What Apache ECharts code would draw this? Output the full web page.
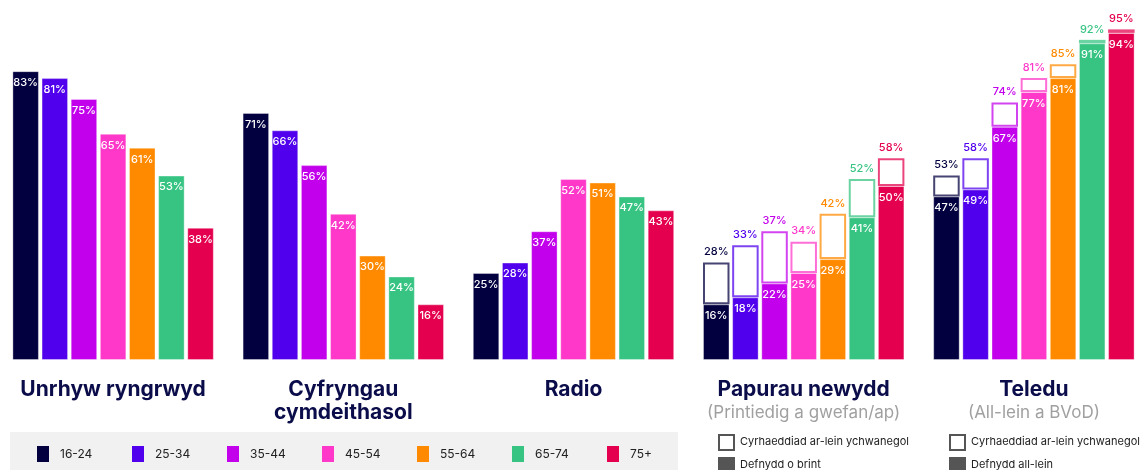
<!DOCTYPE html>
<html>
<head>
<meta charset="utf-8">
<script src="https://cdn.jsdelivr.net/npm/echarts@6/dist/echarts.min.js"></script>
<style>
  html, body { margin: 0; padding: 0; background: #fff; }
  #main { width: 1143px; height: 470px; }
</style>
</head>
<body>
<div id="main"></div>
<script>
// data
var media = ['Unrhyw ryngrwyd', 'Cyfryngau\ncymdeithasol', 'Radio', 'Papurau newydd', 'Teledu'];
var mediaSub = ['', '', '', '(Printiedig a gwefan/ap)', '(All-lein a BVoD)'];
var ages = ['16-24', '25-34', '35-44', '45-54', '55-64', '65-74', '75+'];
var colors = ['#03003f', '#5000ec', '#c300ec', '#ff38c9', '#ff8a00', '#37c482', '#e4004e'];

var internet = [83, 81, 75, 65, 61, 53, 38];
var social = [71, 66, 56, 42, 30, 24, 16];
var radio = [25, 28, 37, 52, 51, 47, 43];
var newsPrint = [16, 18, 22, 25, 29, 41, 50];
var newsTotal = [28, 33, 37, 34, 42, 52, 58];
var tvLive = [47, 49, 67, 77, 81, 91, 94];
var tvTotal = [53, 58, 74, 81, 85, 92, 95];

var navy = '#0b0c4a';
var font = 'Inter';

var myChart = echarts.init(document.getElementById('main'));

var series = [];
ages.forEach(function (age, i) {
    // filled part
    series.push({
        name: age,
        type: 'bar',
        stack: 's' + i,
        barWidth: 26.5,
        barGap: '10%',
        data: [internet[i], social[i], radio[i], newsPrint[i], tvLive[i]],
        itemStyle: { color: colors[i], borderColor: 'rgba(255,255,255,0.35)', borderWidth: 1 },
        label: {
            show: true,
            position: 'insideTop',
            distance: 6,
            formatter: '{c}%',
            color: '#fff',
            fontFamily: font,
            fontSize: 11,
            fontWeight: 500
        }
    });
    // extra online reach, outlined on top
    var totals = ['-', '-', '-', newsTotal[i], tvTotal[i]];
    series.push({
        name: age + ' extra',
        type: 'bar',
        stack: 's' + i,
        barWidth: 26.5,
        barGap: '10%',
        data: ['-', '-', '-', newsTotal[i] - newsPrint[i], tvTotal[i] - tvLive[i]],
        itemStyle: { color: '#fff', borderColor: colors[i] + 'bb', borderWidth: 2 },
        label: {
            show: true,
            position: 'top',
            distance: 5,
            formatter: function (p) { return totals[p.dataIndex] + '%'; },
            color: colors[i],
            fontFamily: font,
            fontSize: 11,
            fontWeight: 500
        }
    });
});

// one legend per age group so the items sit on an even spacing
var legends = ages.map(function (age, i) {
    return {
        data: [age],
        left: 37 + 95 * i,
        top: 446,
        padding: 0,
        icon: 'rect',
        itemWidth: 12,
        itemHeight: 16,
        selectedMode: false,
        itemStyle: { borderWidth: 0 },
        textStyle: { color: '#222', fontFamily: font, fontSize: 12, padding: [0, 0, 0, 6] }
    };
});

function legendBox(x, text1, text2) {
    return [
        { type: 'rect', shape: { x: x, y: 435, width: 15, height: 15 },
          style: { fill: '#fff', stroke: '#555', lineWidth: 2 } },
        { type: 'text', x: x + 21, y: 442,
          style: { text: text1, fill: '#222', font: '11px ' + font, textVerticalAlign: 'middle' } },
        { type: 'rect', shape: { x: x - 1, y: 457, width: 17, height: 17 },
          style: { fill: '#555' } },
        { type: 'text', x: x + 21, y: 465,
          style: { text: text2, fill: '#222', font: '11px ' + font, textVerticalAlign: 'middle' } }
    ];
}

var option = {
    backgroundColor: '#fff',
    animation: false,
    grid: { left: -2, width: 1151, top: 12, bottom: 110, containLabel: false, outerBoundsMode: 'none' },
    xAxis: {
        type: 'category',
        data: media,
        axisLine: { show: false },
        axisTick: { show: false },
        axisLabel: {
            interval: 0,
            margin: 18,
            color: navy,
            fontFamily: font,
            fontSize: 21,
            fontWeight: 'bold',
            lineHeight: 23,
            formatter: function (v, idx) {
                var s = mediaSub[idx];
                return s ? v + '\n{s|' + s + '}' : v;
            },
            rich: {
                s: { color: '#a0a0a0', fontFamily: font, fontSize: 17, fontWeight: 'normal', lineHeight: 23 }
            }
        }
    },
    yAxis: { type: 'value', min: 0, max: 100, show: false },
    legend: legends,
    graphic: [
        { type: 'rect', z: -10, shape: { x: 10, y: 432, width: 668, height: 40 }, style: { fill: '#f1f1f1' } }
    ].concat(legendBox(719, 'Cyrhaeddiad ar-lein ychwanegol', 'Defnydd o brint'))
     .concat(legendBox(950, 'Cyrhaeddiad ar-lein ychwanegol', 'Defnydd all-lein')),
    series: series
};

myChart.setOption(option);
</script>
</body>
</html>
